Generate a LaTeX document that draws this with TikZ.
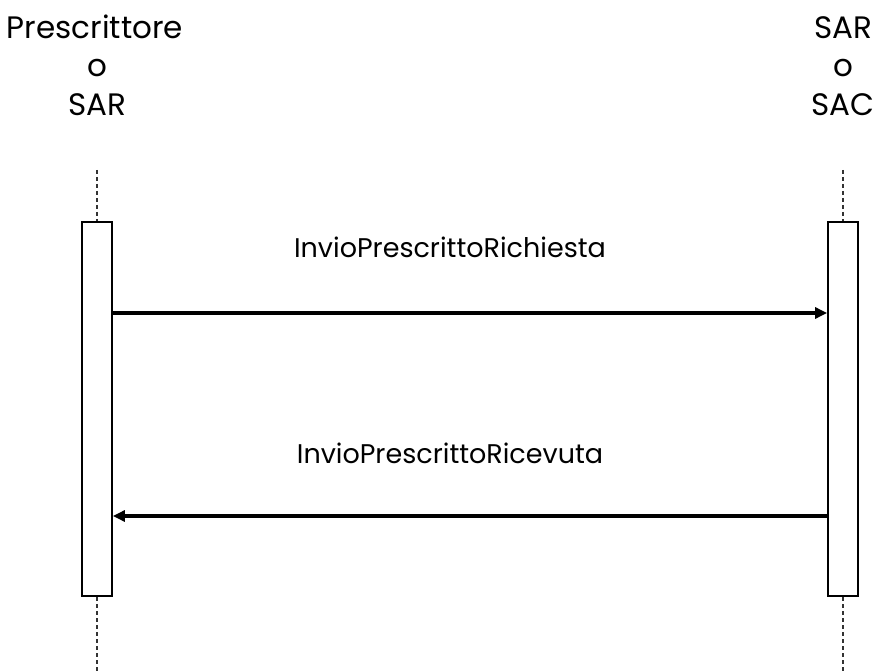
\documentclass[tikz,border=0pt]{standalone}
\usepackage{fontspec}
\setmainfont{Poppins}
\usetikzlibrary{arrows.meta}
\begin{document}
\begin{tikzpicture}[x=1pt,y=-1pt,
  title/.style={font=\fontsize{31}{36}\selectfont, anchor=base, inner sep=0pt},
  msg/.style={font=\fontsize{27}{32}\selectfont, anchor=base, inner sep=0pt},
  actbox/.style={draw=black, line width=1.8pt, fill=white},
  lifeline/.style={draw=black!80, line width=1.1pt, dash pattern=on 4pt off 3pt},
  msgarrow/.style={draw=black, line width=3.3pt, -{Triangle[length=12pt,width=11pt]}}]
\useasboundingbox (0,0) rectangle (879,671);
% titles
\node[title] (t1a) at (95,39) {Prescrittore};
\node[title] (t1b) at (97,77) {o};
\node[title] (t1c) at (97,116) {SAR};
\node[title] (t2a) at (843,39) {SAR};
\node[title] (t2b) at (843,77) {o};
\node[title] (t2c) at (843,116) {SAC};
% lifelines
\coordinate (l1top) at (97,170);
\coordinate (l1bot) at (97,671);
\coordinate (l2top) at (843,170);
\coordinate (l2bot) at (843,671);
\draw[lifeline] (l1top) -- (l1bot);
\draw[lifeline] (l2top) -- (l2bot);
% activation boxes
\node[actbox, minimum width=30pt, minimum height=374pt, inner sep=0pt] (a1) at (97,409) {};
\node[actbox, minimum width=30pt, minimum height=374pt, inner sep=0pt] (a2) at (843,409) {};
% messages
\coordinate (m1s) at (a1.east |- 0,313);
\coordinate (m1e) at (a2.west |- 0,313);
\coordinate (m2s) at (a2.west |- 0,516);
\coordinate (m2e) at (a1.east |- 0,516);
\draw[msgarrow] (m1s) -- (m1e);
\draw[msgarrow] (m2s) -- (m2e);
\node[msg] (lab1) at (450,258) {InvioPrescrittoRichiesta};
\node[msg] (lab2) at (450,463) {InvioPrescrittoRicevuta};
\end{tikzpicture}
\end{document}
